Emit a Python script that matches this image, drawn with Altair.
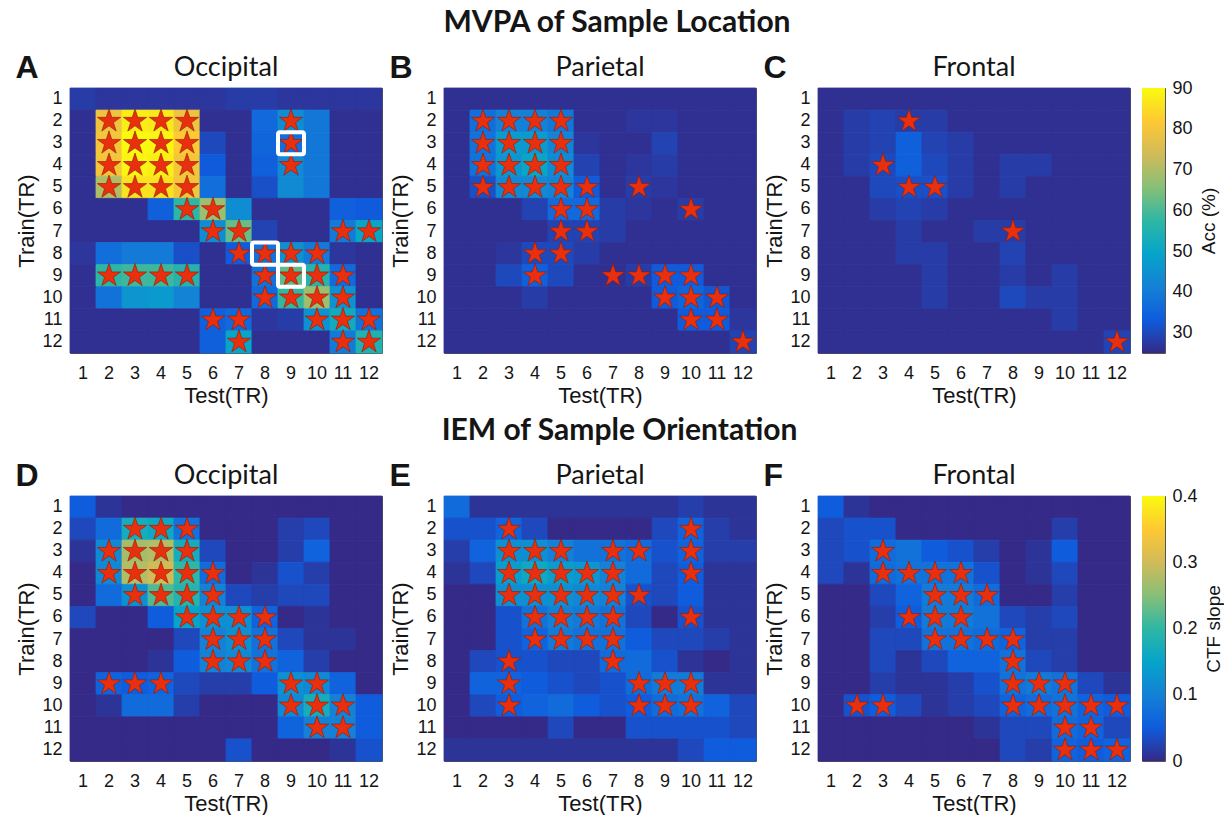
import altair as alt
import pandas as pd

TR = list(range(1, 13))
PARULA = ["#352A87", "#0F5CDD", "#1481D6", "#06A4CA", "#2EB7A4",
          "#87BF77", "#D1BB59", "#FEC832", "#F9FB0E"]
STAR_PATH = ("M0,-1L0.2245,-0.309L0.951,-0.309L0.363,0.118L0.588,0.809"
             "L0,0.382L-0.588,0.809L-0.363,0.118L-0.951,-0.309L-0.2245,-0.309Z")

ACC_DOMAIN = (25, 90)
ACC_TICKS = [30, 40, 50, 60, 70, 80, 90]
CTF_DOMAIN = (0, 0.4)
CTF_TICKS = [0, 0.1, 0.2, 0.3, 0.4]

# rows = Train TR 1..12, columns = Test TR 1..12
acc_occipital = [
    [28, 27, 27, 27, 27, 27, 28, 28, 27, 27, 27, 27],
    [26, 79, 88, 87, 79, 26, 26, 36, 44, 39, 26, 26],
    [26, 80, 90, 89, 82, 30, 26, 35, 37, 39, 26, 26],
    [26, 80, 89, 88, 80, 33, 26, 34, 43, 39, 26, 26],
    [26, 70, 86, 86, 80, 37, 26, 31, 43, 39, 26, 26],
    [26, 26, 26, 34, 57, 68, 44, 26, 26, 26, 34, 33],
    [26, 26, 26, 26, 26, 44, 63, 29, 26, 26, 40, 50],
    [27, 37, 40, 40, 31, 26, 33, 38, 45, 40, 27, 26],
    [26, 57, 59, 59, 56, 26, 26, 38, 62, 56, 36, 26],
    [26, 38, 46, 47, 42, 26, 26, 36, 58, 68, 45, 26],
    [26, 26, 26, 26, 26, 34, 36, 27, 28, 45, 52, 38],
    [26, 26, 26, 26, 26, 34, 50, 26, 26, 26, 40, 55],
]
acc_parietal = [
    [26, 26, 26, 26, 26, 26, 26, 26, 26, 26, 26, 26],
    [26, 37, 41, 41, 39, 26, 26, 27, 27, 26, 26, 26],
    [26, 38, 47, 47, 42, 27, 26, 26, 29, 26, 26, 26],
    [26, 38, 46, 50, 43, 29, 26, 27, 28, 26, 26, 26],
    [26, 31, 43, 43, 42, 33, 26, 28, 27, 26, 26, 26],
    [26, 26, 26, 29, 36, 36, 28, 27, 26, 28, 26, 26],
    [26, 26, 26, 26, 29, 29, 28, 26, 26, 26, 26, 26],
    [26, 26, 27, 30, 30, 28, 26, 26, 26, 26, 26, 26],
    [26, 26, 30, 34, 30, 26, 26, 28, 33, 33, 26, 26],
    [26, 26, 26, 28, 26, 26, 26, 26, 33, 35, 32, 26],
    [26, 26, 26, 26, 26, 26, 26, 26, 26, 33, 33, 27],
    [26, 26, 26, 26, 26, 26, 26, 26, 26, 26, 26, 29],
]
acc_frontal = [
    [26, 26, 26, 26, 26, 26, 26, 26, 26, 26, 26, 26],
    [26, 28, 29, 28, 28, 26, 26, 26, 26, 26, 26, 26],
    [26, 28, 29, 34, 29, 28, 26, 26, 26, 26, 26, 26],
    [26, 28, 30, 34, 30, 28, 26, 28, 28, 26, 26, 26],
    [26, 26, 30, 31, 31, 28, 26, 28, 26, 26, 26, 26],
    [26, 26, 28, 29, 28, 26, 26, 26, 26, 26, 26, 26],
    [26, 26, 26, 28, 26, 26, 28, 28, 26, 26, 26, 26],
    [26, 26, 26, 28, 28, 26, 26, 29, 26, 26, 26, 26],
    [26, 26, 26, 26, 28, 26, 26, 28, 26, 28, 26, 26],
    [26, 26, 26, 26, 28, 26, 26, 30, 28, 28, 26, 26],
    [26, 26, 26, 26, 26, 26, 26, 26, 26, 28, 26, 26],
    [26, 26, 26, 26, 26, 26, 26, 26, 26, 26, 26, 29],
]
ctf_occipital = [
    [0.05, 0.01, 0.00, 0.00, 0.00, 0.00, 0.00, 0.00, 0.00, 0.00, 0.00, 0.00],
    [0.03, 0.07, 0.17, 0.16, 0.08, 0.00, 0.00, 0.00, 0.02, 0.03, 0.00, 0.00],
    [0.01, 0.11, 0.27, 0.28, 0.17, 0.03, 0.00, 0.00, 0.02, 0.06, 0.00, 0.00],
    [0.00, 0.11, 0.28, 0.30, 0.20, 0.07, 0.00, 0.01, 0.04, 0.02, 0.00, 0.00],
    [0.00, 0.07, 0.12, 0.22, 0.19, 0.10, 0.03, 0.02, 0.03, 0.03, 0.00, 0.00],
    [0.03, 0.00, 0.00, 0.05, 0.15, 0.12, 0.12, 0.06, 0.00, 0.01, 0.00, 0.00],
    [0.00, 0.00, 0.00, 0.00, 0.03, 0.10, 0.12, 0.08, 0.03, 0.01, 0.01, 0.00],
    [0.00, 0.00, 0.00, 0.01, 0.05, 0.10, 0.11, 0.08, 0.06, 0.02, 0.00, 0.00],
    [0.00, 0.06, 0.05, 0.06, 0.03, 0.02, 0.02, 0.05, 0.12, 0.11, 0.06, 0.00],
    [0.00, 0.01, 0.07, 0.07, 0.02, 0.00, 0.00, 0.00, 0.11, 0.17, 0.10, 0.05],
    [0.00, 0.00, 0.00, 0.00, 0.00, 0.00, 0.00, 0.00, 0.06, 0.10, 0.10, 0.05],
    [0.00, 0.00, 0.00, 0.00, 0.00, 0.00, 0.04, 0.00, 0.00, 0.00, 0.01, 0.04],
]
ctf_parietal = [
    [0.07, 0.01, 0.01, 0.01, 0.01, 0.01, 0.01, 0.01, 0.01, 0.02, 0.01, 0.01],
    [0.04, 0.04, 0.06, 0.03, 0.00, 0.00, 0.00, 0.00, 0.03, 0.06, 0.02, 0.01],
    [0.02, 0.06, 0.12, 0.12, 0.10, 0.08, 0.08, 0.07, 0.04, 0.06, 0.02, 0.02],
    [0.01, 0.03, 0.14, 0.16, 0.14, 0.13, 0.10, 0.07, 0.03, 0.05, 0.01, 0.01],
    [0.00, 0.00, 0.12, 0.12, 0.12, 0.11, 0.10, 0.04, 0.03, 0.05, 0.01, 0.01],
    [0.00, 0.00, 0.04, 0.08, 0.10, 0.09, 0.08, 0.03, 0.00, 0.04, 0.01, 0.01],
    [0.00, 0.00, 0.04, 0.06, 0.09, 0.08, 0.08, 0.05, 0.03, 0.03, 0.02, 0.01],
    [0.00, 0.03, 0.04, 0.04, 0.03, 0.03, 0.07, 0.07, 0.04, 0.01, 0.00, 0.01],
    [0.00, 0.06, 0.06, 0.05, 0.04, 0.03, 0.04, 0.07, 0.09, 0.09, 0.01, 0.01],
    [0.00, 0.03, 0.05, 0.06, 0.07, 0.05, 0.04, 0.05, 0.07, 0.08, 0.06, 0.03],
    [0.00, 0.00, 0.00, 0.00, 0.03, 0.00, 0.00, 0.04, 0.04, 0.04, 0.04, 0.03],
    [0.01, 0.01, 0.01, 0.01, 0.01, 0.01, 0.01, 0.01, 0.01, 0.03, 0.05, 0.05],
]
ctf_frontal = [
    [0.05, 0.01, 0.00, 0.00, 0.00, 0.00, 0.00, 0.00, 0.00, 0.00, 0.00, 0.00],
    [0.03, 0.04, 0.04, 0.00, 0.00, 0.00, 0.00, 0.00, 0.00, 0.02, 0.00, 0.00],
    [0.03, 0.04, 0.07, 0.08, 0.05, 0.04, 0.02, 0.00, 0.01, 0.05, 0.00, 0.00],
    [0.03, 0.01, 0.07, 0.08, 0.08, 0.08, 0.04, 0.00, 0.01, 0.03, 0.00, 0.00],
    [0.00, 0.00, 0.03, 0.06, 0.09, 0.09, 0.07, 0.00, 0.00, 0.02, 0.00, 0.00],
    [0.00, 0.00, 0.02, 0.05, 0.09, 0.09, 0.08, 0.03, 0.02, 0.03, 0.00, 0.00],
    [0.00, 0.00, 0.03, 0.03, 0.08, 0.08, 0.07, 0.06, 0.02, 0.02, 0.00, 0.00],
    [0.00, 0.00, 0.03, 0.01, 0.03, 0.06, 0.06, 0.08, 0.03, 0.02, 0.00, 0.00],
    [0.00, 0.00, 0.02, 0.01, 0.01, 0.02, 0.04, 0.08, 0.09, 0.08, 0.03, 0.01],
    [0.00, 0.04, 0.05, 0.03, 0.01, 0.02, 0.03, 0.06, 0.07, 0.08, 0.06, 0.05],
    [0.00, 0.00, 0.00, 0.00, 0.00, 0.00, 0.01, 0.03, 0.03, 0.07, 0.06, 0.03],
    [0.00, 0.00, 0.00, 0.00, 0.00, 0.00, 0.00, 0.03, 0.02, 0.06, 0.05, 0.06],
]

# significant cells: [train, test]
stars_A = [[2, 2], [2, 3], [2, 4], [2, 5], [3, 2], [3, 3], [3, 4], [3, 5],
           [4, 2], [4, 3], [4, 4], [4, 5], [5, 2], [5, 3], [5, 4], [5, 5],
           [2, 9], [3, 9], [4, 9], [6, 5], [6, 6], [7, 6], [7, 7], [7, 11], [7, 12],
           [8, 7], [8, 8], [8, 9], [8, 10], [9, 2], [9, 3], [9, 4], [9, 5],
           [9, 8], [9, 9], [9, 10], [9, 11], [10, 8], [10, 9], [10, 10], [10, 11],
           [11, 6], [11, 7], [11, 10], [11, 11], [11, 12], [12, 7], [12, 11], [12, 12]]
boxes_A = [[3, 9], [8, 8], [9, 9]]
stars_B = [[2, 2], [2, 3], [2, 4], [2, 5], [3, 2], [3, 3], [3, 4], [3, 5],
           [4, 2], [4, 3], [4, 4], [4, 5], [5, 2], [5, 3], [5, 4], [5, 5], [5, 6], [5, 8],
           [6, 5], [6, 6], [6, 10], [7, 5], [7, 6], [8, 4], [8, 5],
           [9, 4], [9, 7], [9, 8], [9, 9], [9, 10], [10, 9], [10, 10], [10, 11],
           [11, 10], [11, 11], [12, 12]]
stars_C = [[2, 4], [4, 3], [5, 4], [5, 5], [7, 8], [12, 12]]
stars_D = [[2, 3], [2, 4], [2, 5], [3, 2], [3, 3], [3, 4], [3, 5],
           [4, 2], [4, 3], [4, 4], [4, 5], [4, 6], [5, 3], [5, 4], [5, 5], [5, 6],
           [6, 5], [6, 6], [6, 7], [6, 8], [7, 6], [7, 7], [7, 8], [8, 6], [8, 7], [8, 8],
           [9, 2], [9, 3], [9, 4], [9, 9], [9, 10], [10, 9], [10, 10], [10, 11],
           [11, 10], [11, 11]]
stars_E = [[2, 3], [2, 10], [3, 3], [3, 4], [3, 5], [3, 7], [3, 8], [3, 10],
           [4, 3], [4, 4], [4, 5], [4, 6], [4, 7], [4, 10],
           [5, 3], [5, 4], [5, 5], [5, 6], [5, 7], [5, 8],
           [6, 4], [6, 5], [6, 6], [6, 7], [6, 10], [7, 4], [7, 5], [7, 6], [7, 7],
           [8, 3], [8, 7], [9, 3], [9, 8], [9, 9], [9, 10], [10, 3], [10, 8], [10, 9], [10, 10]]
stars_F = [[3, 3], [4, 3], [4, 4], [4, 5], [4, 6], [5, 5], [5, 6], [5, 7],
           [6, 4], [6, 5], [6, 6], [7, 5], [7, 6], [7, 7], [7, 8], [8, 8],
           [9, 8], [9, 9], [9, 10], [10, 2], [10, 3], [10, 8], [10, 9], [10, 10],
           [10, 11], [10, 12], [11, 10], [11, 11], [12, 10], [12, 11], [12, 12]]

TXT = "#151515"
NUM_FONT = "Liberation Sans"
HEAD_FONT = "Lato"
PW, PH = 312, 265
IND = dict(x="independent", y="independent", color="independent", stroke="independent")


def stops(lo, hi):
    n = len(PARULA) - 1
    return [lo + (hi - lo) * k / n for k in range(n + 1)]


def grid_df(mat):
    return pd.DataFrame([{"train": i + 1, "test": j + 1, "v": v}
                         for i, row in enumerate(mat) for j, v in enumerate(row)])


def pairs_df(pairs):
    return pd.DataFrame(pairs, columns=["train", "test"])


def xy():
    x = alt.X("test:O", scale=alt.Scale(domain=TR, paddingInner=0, paddingOuter=0),
              axis=alt.Axis(title="Test(TR)", labelAngle=0, labelPadding=11))
    y = alt.Y("train:O", scale=alt.Scale(domain=TR, paddingInner=0, paddingOuter=0),
              axis=alt.Axis(title="Train(TR)"))
    return x, y


def panel(mat, stars, region, letter, dom, boxes=None):
    x, y = xy()
    cscale = alt.Scale(domain=stops(*dom), range=PARULA, interpolate="rgb", clamp=True)
    heat = alt.Chart(grid_df(mat)).mark_rect(strokeWidth=0.8).encode(
        x=x, y=y,
        color=alt.Color("v:Q", legend=None, scale=cscale),
        stroke=alt.Stroke("v:Q", legend=None, scale=cscale))
    star = alt.Chart(pairs_df(stars)).mark_point(
        shape=STAR_PATH, filled=True, size=600, fill="#e8300f",
        stroke="#8f1a04", strokeWidth=0.6, opacity=1).encode(x=x, y=y)
    layers = [heat, star]
    if boxes:
        layers.append(alt.Chart(pairs_df(boxes)).mark_rect(
            filled=False, stroke="white", strokeWidth=4, cornerRadius=2).encode(x=x, y=y))
    inner = alt.layer(*layers).properties(
        width=PW, height=PH,
        title=alt.TitleParams(region, font=HEAD_FONT, fontSize=27, fontWeight="normal",
                              anchor="middle", offset=6, color=TXT))
    return alt.vconcat(inner, title=alt.TitleParams(
        letter, font=NUM_FONT, fontSize=32, fontWeight="bold", anchor="start",
        frame="bounds", offset=0, dy=32, color=TXT))


def colorbar(dom, ticks, title, fmt):
    df = pd.DataFrame({"lo": [dom[0]], "hi": [dom[1]], "k": ["bar"]})
    n = len(PARULA) - 1
    grad = alt.Gradient(gradient="linear",
                        stops=[alt.GradientStop(color=c, offset=k / n) for k, c in enumerate(PARULA)],
                        x1=0, x2=0, y1=1, y2=0)
    return alt.Chart(df).mark_rect(color=grad).encode(
        x=alt.X("k:N", axis=None, scale=alt.Scale(paddingInner=0, paddingOuter=0)),
        y=alt.Y("lo:Q", scale=alt.Scale(domain=list(dom), nice=False, zero=False),
                axis=alt.Axis(orient="right", values=ticks, title=title, titleAngle=270,
                              titleBaseline="top", format=fmt, labelFontSize=18,
                              titleFontSize=19, labelPadding=7, titlePadding=7)),
        y2="hi:Q",
    ).properties(width=23, height=PH)


def row(panels, cbar, title):
    inner = alt.hconcat(*panels, spacing=6).resolve_scale(**IND)
    return alt.hconcat(inner, cbar, spacing=10, title=alt.TitleParams(
        title, font=HEAD_FONT, fontSize=30, fontWeight="bold", anchor="middle",
        offset=14, color=TXT)).resolve_scale(**IND)


row1 = row([
    panel(acc_occipital, stars_A, "Occipital", "A", ACC_DOMAIN, boxes_A),
    panel(acc_parietal, stars_B, "Parietal", "B", ACC_DOMAIN),
    panel(acc_frontal, stars_C, "Frontal", "C", ACC_DOMAIN),
], colorbar(ACC_DOMAIN, ACC_TICKS, "Acc (%)", "d"), "MVPA of Sample Location")

row2 = row([
    panel(ctf_occipital, stars_D, "Occipital", "D", CTF_DOMAIN),
    panel(ctf_parietal, stars_E, "Parietal", "E", CTF_DOMAIN),
    panel(ctf_frontal, stars_F, "Frontal", "F", CTF_DOMAIN),
], colorbar(CTF_DOMAIN, CTF_TICKS, "CTF slope", "~g"), "IEM of Sample Orientation")

chart = alt.vconcat(row1, row2, spacing=9).resolve_scale(**IND).properties(
    padding={"left": 15, "top": 8, "right": 0, "bottom": 0},
    background="white",
).configure_axis(
    labelFont=NUM_FONT, labelFontSize=18, labelColor=TXT,
    titleFont=NUM_FONT, titleFontSize=22, titleFontWeight="normal", titleColor=TXT,
    ticks=False, domain=False, grid=False, labelPadding=8, titlePadding=3,
).configure_view(stroke="#555555", strokeWidth=1)

chart.save("out.html", embed_options={"renderer": "svg", "actions": False})
